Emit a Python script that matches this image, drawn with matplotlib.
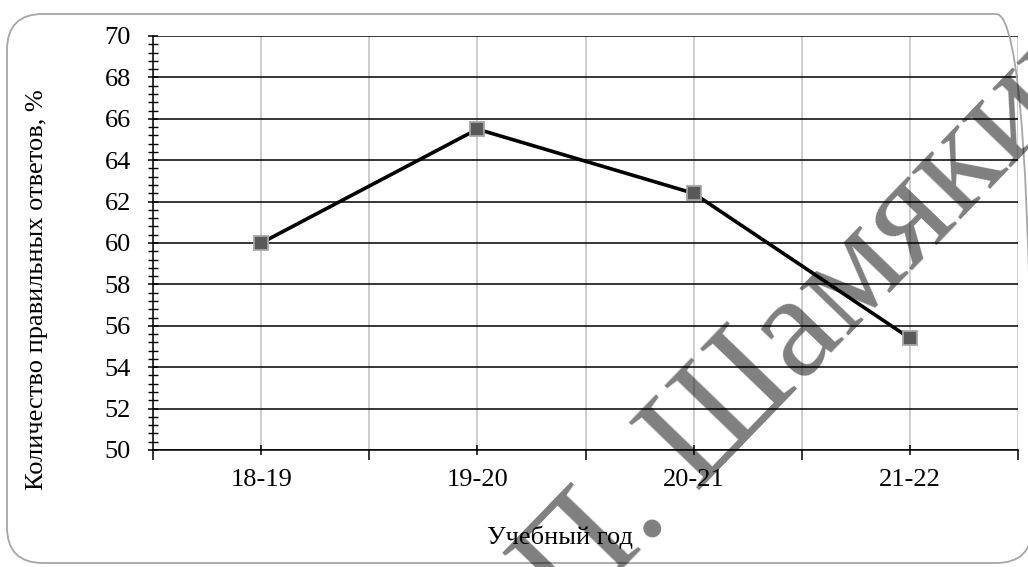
import matplotlib
matplotlib.use("Agg")
import matplotlib.pyplot as plt
from matplotlib.patches import FancyBboxPatch
from matplotlib.ticker import MultipleLocator, FixedLocator

categories = ["18-19", "19-20", "20-21", "21-22"]
values = [60.0, 65.5, 62.4, 55.4]
y_ticks = [50, 52, 54, 56, 58, 60, 62, 64, 66, 68, 70]
x_label = "Учебный год"
y_label = "Количество правильных ответов, %"
watermark = "П. Шамякина"

plt.rcParams['font.family'] = ['Liberation Serif', 'DejaVu Serif']

fig = plt.figure(figsize=(10.28, 5.67), dpi=100)
W, H = 1028, 567

# rounded outer frame
frame = FancyBboxPatch((7 / W, (H - 563) / H), (1032 - 7) / W, (563 - 14) / H,
                       boxstyle="round,pad=0,rounding_size=0.035",
                       transform=fig.transFigure, fill=False,
                       edgecolor="#a6a6a6", linewidth=1.3, zorder=0,
                       mutation_aspect=W / H)
fig.patches.append(frame)

ax = fig.add_axes([153 / W, (H - 450) / H, (1018 - 153) / W, (450 - 36) / H])
x = list(range(len(categories)))

ax.set_xlim(-0.5, len(categories) - 0.5)
ax.set_ylim(50, 70)

ax.set_yticks(y_ticks)
ax.yaxis.set_minor_locator(MultipleLocator(0.4))
ax.set_xticks(x)
ax.set_xticklabels(categories)
ax.xaxis.set_minor_locator(FixedLocator([i - 0.5 for i in range(len(categories) + 1)]))

ax.grid(axis='y', which='major', color='black', linewidth=1.1, zorder=1)
ax.grid(axis='x', which='both', color='#c0c0c0', linewidth=1.1, zorder=1)

for s in ['top', 'right']:
    ax.spines[s].set_visible(False)
ax.spines['left'].set_linewidth(1.1)
ax.spines['bottom'].set_linewidth(1.1)

ax.tick_params(axis='y', which='major', direction='inout', length=7.5, width=1.1,
               labelsize=19, pad=12)
ax.tick_params(axis='y', which='minor', direction='inout', length=7.5, width=1.0)
ax.tick_params(axis='x', which='major', direction='inout', length=7.5, width=1.1,
               labelsize=19, pad=10)
ax.tick_params(axis='x', which='minor', direction='out', length=7.5, width=1.1)

ax.plot(x, values, color='black', linewidth=2.6, marker='s', markersize=10,
        markerfacecolor='#595959', markeredgecolor='#a6a6a6', markeredgewidth=1.3,
        zorder=3, clip_on=False)

fig.text(560 / W, 1 - 537 / H, x_label, ha='center', va='center', fontsize=19)
fig.text(37 / W, 1 - 290 / H, y_label, ha='center', va='center', rotation=90,
         fontsize=19)

# watermark
fig.text(571 / W, 1 - 624 / H, watermark, rotation=46, rotation_mode='anchor',
         ha='left', va='baseline', fontsize=107, color='black', alpha=0.5,
         zorder=10)

fig.savefig("out.png", dpi=100)
